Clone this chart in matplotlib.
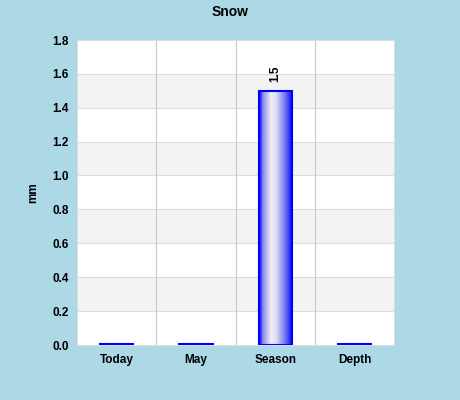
import numpy as np
import matplotlib.pyplot as plt
from matplotlib.colors import LinearSegmentedColormap

plt.rcParams['font.family'] = ['Liberation Sans', 'DejaVu Sans']

categories = ["Today", "May", "Season", "Depth"]
snow = [0, 0, 1.5, 0]
yticks = [0.0, 0.2, 0.4, 0.6, 0.8, 1.0, 1.2, 1.4, 1.6, 1.8]

fig = plt.figure(figsize=(4.602, 4.002), dpi=100, facecolor='#add8e6')
ax = fig.add_axes([77/460, 55/400, 317/460, 305/400])
ax.set_facecolor('white')

x = np.arange(len(categories))
ax.set_xlim(-0.5, len(categories) - 0.5)
ax.set_ylim(0, 1.8)

# alternating bands
for i in range(len(yticks) - 1):
    if i % 2 == 1:
        ax.axhspan(yticks[i], yticks[i + 1], color='#f3f3f3', zorder=0, lw=0)
for yv in yticks[1:-1]:
    ax.axhline(yv, color='#dddddd', lw=0.8, zorder=0.5)
for xv in x[:-1] + 0.5:
    ax.axvline(xv, color='#c8c8c8', lw=0.8, zorder=0.5)

cmap = LinearSegmentedColormap.from_list(
    'g', [(0, '#0000ff'), (0.12, '#9090f0'), (0.35, '#eeeef6'),
          (0.5, '#e0e0f4'), (0.75, '#8080ee'), (1, '#0000ff')])
grad = np.linspace(0, 1, 100).reshape(1, -1)
w = 0.42
bars = ax.bar(x, snow, width=w, facecolor='none', edgecolor='#0000ff', lw=1.5, zorder=3)
for b, v in zip(bars, snow):
    if v > 0:
        ax.imshow(grad, cmap=cmap, aspect='auto', zorder=2,
                  extent=[b.get_x(), b.get_x() + w, 0, v])
        ax.text(b.get_x() + w / 2, v + 0.05, f"{v}", rotation=90, ha='center',
                va='bottom', fontsize=8.5, fontweight='bold')
    else:
        ax.plot([b.get_x(), b.get_x() + w], [0.003, 0.003], color='#0000ff', lw=1.5, zorder=3)

ax.set_xticks(x)
ax.set_xticklabels(categories, fontsize=8.5, fontweight='bold')
ax.set_yticks(yticks)
ax.set_yticklabels([f"{t:.1f}" for t in yticks], fontsize=8.5, fontweight='bold')
ax.tick_params(length=0, pad=6)
for s in ax.spines.values():
    s.set_color('#dddddd')
ax.set_ylabel("mm", fontsize=8.5, fontweight='bold', labelpad=9)
fig.text(0.5, 0.97, "Snow", ha='center', va='center', fontsize=10, fontweight='bold')

fig.savefig("out.png", dpi=100, facecolor=fig.get_facecolor())
